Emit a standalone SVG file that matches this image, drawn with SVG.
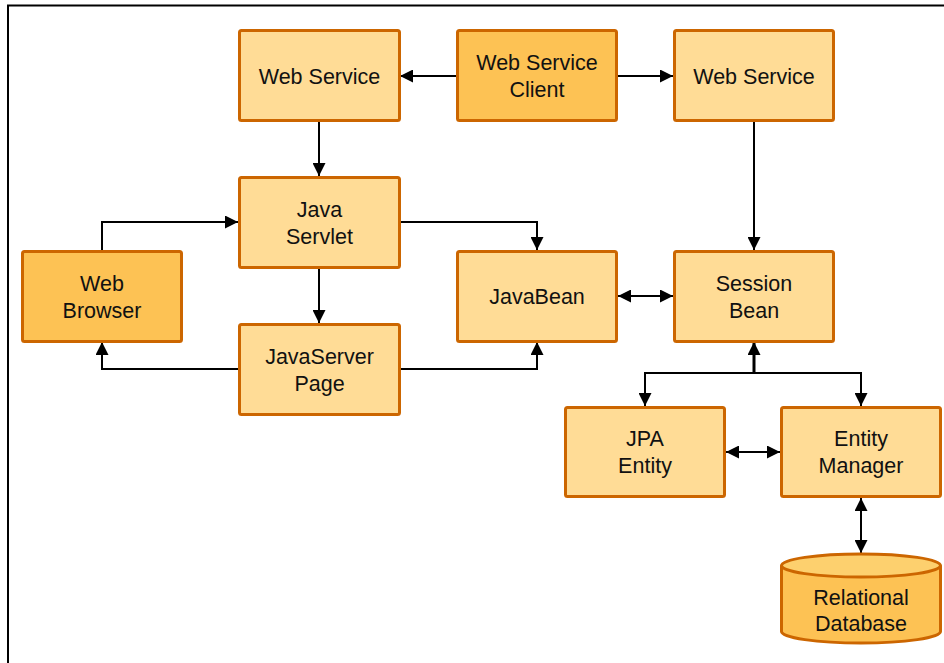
<svg xmlns="http://www.w3.org/2000/svg" width="944" height="663" viewBox="0 0 944 663">
  <defs>
    <marker id="arrow" viewBox="0 0 13 13" refX="13" refY="6.5" markerWidth="13" markerHeight="13" markerUnits="userSpaceOnUse" orient="auto-start-reverse">
      <path d="M0,0 L13,6.5 L0,13 z" fill="#000"/>
    </marker>
    <style>
      .box { fill: #FFDC96; stroke: #CC6600; stroke-width: 3; }
      .box.dark { fill: #FDC254; }
      .label { font-family: "Liberation Sans", Arial, sans-serif; font-size: 21.5px; fill: #111; text-anchor: middle; }
      .conn { fill: none; stroke: #000; stroke-width: 2; }
      .conn.thick { stroke-width: 3; }
    </style>
  </defs>
  <rect width="944" height="663" fill="#fff"/>
  <!-- outer frame (runs off right and bottom edges) -->
  <path d="M8,663 L8,5.5 L944,5.5" fill="none" stroke="#000" stroke-width="2"/>

  <g id="connectors">
    <path class="conn" d="M457,76 L400,76" marker-end="url(#arrow)"/>
    <path class="conn" d="M617,76 L673,76" marker-end="url(#arrow)"/>
    <path class="conn" d="M319,121 L319,176" marker-end="url(#arrow)"/>
    <path class="conn" d="M754,121 L754,250" marker-end="url(#arrow)"/>
    <path class="conn" d="M102,250 L102,222 L238,222" marker-end="url(#arrow)"/>
    <path class="conn" d="M319,268 L319,323" marker-end="url(#arrow)"/>
    <path class="conn" d="M238,369 L102,369 L102,342" marker-end="url(#arrow)"/>
    <path class="conn" d="M400,222 L537,222 L537,250" marker-end="url(#arrow)"/>
    <path class="conn" d="M400,369 L537,369 L537,342" marker-end="url(#arrow)"/>
    <path class="conn" d="M618,296 L673,296" marker-start="url(#arrow)" marker-end="url(#arrow)"/>
    <path class="conn thick" d="M754,373 L754,342" marker-end="url(#arrow)"/>
    <path class="conn" d="M754,373 L645,373 L645,406" marker-end="url(#arrow)"/>
    <path class="conn" d="M754,373 L861,373 L861,406" marker-end="url(#arrow)"/>
    <path class="conn" d="M726,452 L780,452" marker-start="url(#arrow)" marker-end="url(#arrow)"/>
    <path class="conn" d="M861,498 L861,553" marker-start="url(#arrow)" marker-end="url(#arrow)"/>
  </g>

  <g id="web-service-left">
    <rect class="box" x="239.5" y="30.5" width="160" height="90" rx="2"/>
    <text class="label" x="319.5" y="83.5">Web Service</text>
  </g>
  <g id="web-service-client">
    <rect class="box dark" x="457.5" y="30.5" width="159" height="90" rx="2"/>
    <text class="label" x="537" y="70">Web Service</text>
    <text class="label" x="537" y="97">Client</text>
  </g>
  <g id="web-service-right">
    <rect class="box" x="674.5" y="30.5" width="159" height="90" rx="2"/>
    <text class="label" x="754" y="83.5">Web Service</text>
  </g>
  <g id="java-servlet">
    <rect class="box" x="239.5" y="177.5" width="160" height="90" rx="2"/>
    <text class="label" x="319.5" y="216.5">Java</text>
    <text class="label" x="319.5" y="243.5">Servlet</text>
  </g>
  <g id="web-browser">
    <rect class="box dark" x="22.5" y="251.5" width="159" height="90" rx="2"/>
    <text class="label" x="102" y="290.5">Web</text>
    <text class="label" x="102" y="317.5">Browser</text>
  </g>
  <g id="javabean">
    <rect class="box" x="457.5" y="251.5" width="159" height="90" rx="2"/>
    <text class="label" x="537" y="304">JavaBean</text>
  </g>
  <g id="session-bean">
    <rect class="box" x="674.5" y="251.5" width="159" height="90" rx="2"/>
    <text class="label" x="754" y="290.5">Session</text>
    <text class="label" x="754" y="317.5">Bean</text>
  </g>
  <g id="javaserver-page">
    <rect class="box" x="239.5" y="324.5" width="160" height="90" rx="2"/>
    <text class="label" x="319.5" y="363.5">JavaServer</text>
    <text class="label" x="319.5" y="390.5">Page</text>
  </g>
  <g id="jpa-entity">
    <rect class="box" x="565.5" y="407.5" width="159" height="89" rx="2"/>
    <text class="label" x="645" y="446">JPA</text>
    <text class="label" x="645" y="473">Entity</text>
  </g>
  <g id="entity-manager">
    <rect class="box" x="781.5" y="407.5" width="159" height="89" rx="2"/>
    <text class="label" x="861" y="446">Entity</text>
    <text class="label" x="861" y="473">Manager</text>
  </g>
  <g id="relational-database">
    <path d="M781.5,565.5 L781.5,631.5 A79.5,11.5 0 0 0 940.5,631.5 L940.5,565.5" fill="#FDC254" stroke="#CC6600" stroke-width="3"/>
    <ellipse cx="861" cy="565.5" rx="79.5" ry="11.5" fill="#FDD06E" stroke="#CC6600" stroke-width="3"/>
    <text class="label" x="861" y="605">Relational</text>
    <text class="label" x="861" y="631">Database</text>
  </g>
</svg>
